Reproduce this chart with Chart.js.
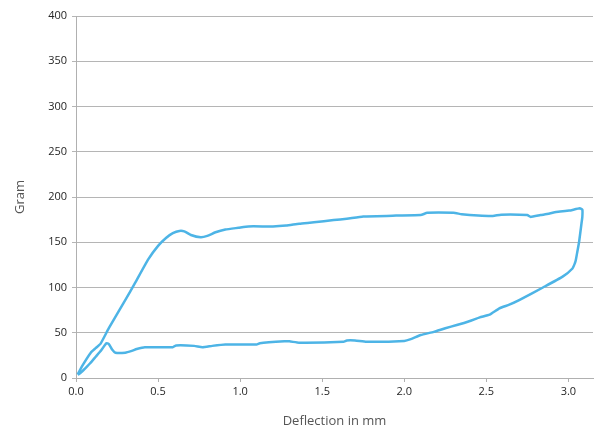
<!DOCTYPE html>
<html>
<head>
<meta charset="utf-8">
<script src="https://cdn.jsdelivr.net/npm/chart.js@4/dist/chart.umd.min.js"></script>
<style>
  html, body { margin: 0; padding: 0; background: #ffffff; }
  #wrap { width: 594px; height: 429px; position: relative; }
</style>
</head>
<body>
<div id="wrap"><canvas id="c"></canvas></div>
<script>
// Deflection (mm) along the loop: loading branch then unloading branch
const deflection = [
  0.01, 0.04, 0.09, 0.12, 0.15, 0.2, 0.3, 0.36, 0.44, 0.5, 0.55, 0.59, 0.63, 0.66, 0.7, 0.76, 0.8, 0.85, 0.91, 0.99,
  1.05, 1.2, 1.28, 1.36, 1.45, 1.57, 1.65, 1.75, 1.95, 2.1, 2.14, 2.3, 2.35, 2.45, 2.54, 2.59, 2.75, 2.77, 2.83, 2.88,
  2.925, 3.005, 3.07, 3.085, 3.085, 3.08, 3.065, 3.055, 3.045, 3.04, 3.025, 2.965, 2.845, 2.7, 2.64, 2.58, 2.52, 2.46,
  2.4, 2.32, 2.25, 2.18, 2.1, 2.04, 2.0, 1.77, 1.7, 1.65, 1.63, 1.36, 1.3, 1.27, 1.12, 1.1, 0.91, 0.83, 0.77, 0.72,
  0.61, 0.59, 0.42, 0.37, 0.34, 0.3, 0.24, 0.22, 0.2, 0.185, 0.155, 0.12, 0.085, 0.058, 0.03, 0.01
];
// Force (gram) at each point
const gram = [
  4, 14, 28, 33, 38, 55, 86, 105, 131, 146, 155, 160, 162.5, 162, 158, 155.5, 157, 161, 164, 166,
  167.5, 167.5, 168.5, 170.5, 172, 174.5, 176, 178.5, 179.5, 180, 182.5, 182.5, 181, 179.5, 179, 180.5, 180, 178, 180, 181.5,
  183.5, 185, 187.5, 186, 178, 171, 150, 140, 130, 127, 121, 112, 100, 86, 81, 77, 70, 67,
  63, 58.5, 55, 51, 47.5, 43, 41, 40, 41.5, 41.5, 40, 39, 40.5, 40.5, 38.5, 37, 37, 35.5, 34, 35.5,
  36, 34, 34, 32, 30, 28, 28, 31.5, 37.5, 38.5, 31, 23.5, 16, 11, 6, 3.5
];
const yTicks = [0, 50, 100, 150, 200, 250, 300, 350, 400];
const xTicks = [0.0, 0.5, 1.0, 1.5, 2.0, 2.5, 3.0];

const points = deflection.map((x, i) => ({ x: x, y: gram[i] }));
const FONT = "'Open Sans', 'Noto Sans', sans-serif";

new Chart(document.getElementById('c'), {
  type: 'scatter',
  data: {
    datasets: [{
      data: points,
      showLine: true,
      borderColor: '#4db4e6',
      backgroundColor: '#4db4e6',
      borderWidth: 2.5,
      pointRadius: 0,
      tension: 0.15,
      fill: false
    }]
  },
  options: {
    responsive: true,
    maintainAspectRatio: false,
    animation: false,
    layout: { padding: { top: 16, right: 1, left: 12, bottom: 0 } },
    plugins: { legend: { display: false }, tooltip: { enabled: false } },
    scales: {
      x: {
        type: 'linear',
        min: 0,
        max: 3.15,
        afterBuildTicks: (s) => { s.ticks = xTicks.map(v => ({ value: v })); },
        ticks: {
          includeBounds: false,
          font: { family: FONT, size: 11, weight: '500' },
          color: '#262626',
          padding: 3,
          maxRotation: 0,
          callback: (v) => Number(v).toFixed(1)
        },
        grid: { drawOnChartArea: false, drawTicks: true, tickLength: 4, color: '#b0b0b0' },
        border: { color: '#b0b0b0', width: 1 },
        title: { display: true, text: 'Deflection in mm', color: '#555555', font: { family: FONT, size: 13 }, padding: { top: 14, bottom: 0 } },
        afterFit: (s) => { s.height = 51; }
      },
      y: {
        type: 'linear',
        min: 0,
        max: 400,
        afterBuildTicks: (s) => { s.ticks = yTicks.map(v => ({ value: v })); },
        ticks: { font: { family: FONT, size: 11, weight: '500' }, color: '#262626', padding: 5 },
        grid: { color: '#b5b5b5', lineWidth: 1, tickLength: 4, drawTicks: true },
        border: { color: '#b0b0b0', width: 1 },
        title: { display: true, text: 'Gram', color: '#555555', font: { family: FONT, size: 13 }, padding: { top: 0, bottom: 10 } },
        afterFit: (s) => { s.width = 64; }
      }
    }
  }
});
</script>
</body>
</html>
